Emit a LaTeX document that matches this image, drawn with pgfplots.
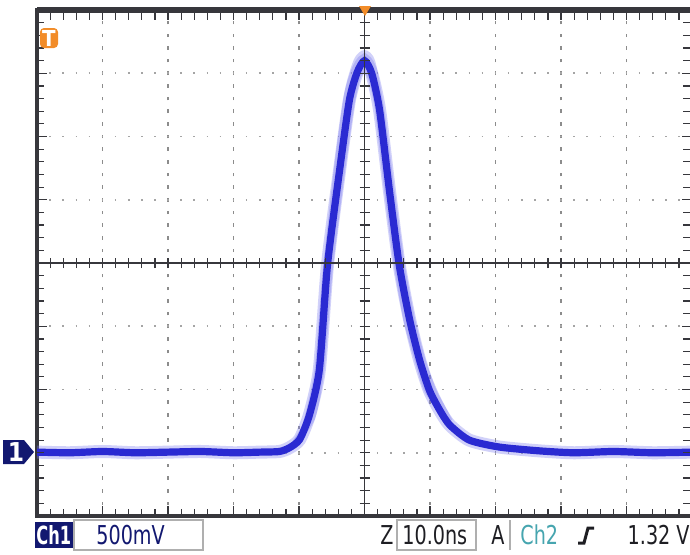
\documentclass[border=0pt]{standalone}
\usepackage{pgfplots}
\pgfplotsset{compat=1.18}
\usepackage{fontspec}
\setmainfont{DejaVu Sans}
\newfontfamily\condensed{DejaVu Sans Condensed}
\definecolor{trace}{RGB}{42,42,210}
\definecolor{halo}{RGB}{125,125,240}
\definecolor{framec}{RGB}{55,55,60}
\definecolor{gridv}{RGB}{140,140,140}
\definecolor{gridh}{RGB}{165,165,165}
\definecolor{boxc}{RGB}{175,175,175}
\definecolor{navy}{RGB}{18,24,112}
\definecolor{trig}{RGB}{242,140,40}
\definecolor{chtwo}{RGB}{70,165,175}
\definecolor{txt}{RGB}{30,30,35}

\begin{document}
\begin{tikzpicture}
\useasboundingbox (0,0) rectangle (345pt,277pt);
\fill[white] (0,0) rectangle (345pt,277pt);
\begin{axis}[
    at={(18.5pt,19pt)}, anchor=south west,
    scale only axis, width=327.5pt, height=253pt,
    xmin=-5, xmax=5, ymin=-4, ymax=4,
    xtick={-5,...,5}, ytick={-4,...,4},
    xticklabels={}, yticklabels={},
    tick align=inside, tick pos=both,
    major tick length=5pt,
    tick style={framec, line width=0.6pt},
    grid=major,
    x grid style={gridv, line width=0.55pt, dash pattern=on 1.8pt off 4.525pt, dash phase=0.9pt},
    y grid style={gridh, line width=0.8pt, dash pattern=on 0.8pt off 5.75pt, dash phase=0.4pt},
    axis line style={framec, line width=1.6pt},
    clip=true,
]
% faint persistence envelope near the peak
\addplot[halo, line width=3pt, opacity=0.35, smooth, tension=0.4] coordinates {
(-1.1,-2.9) (-0.9,-2.55) (-0.72,-1.7) (-0.6,-0.2) (-0.42,1.5) (-0.26,2.7) (-0.12,3.2) (0,3.32) (0.12,3.18)
(0.26,2.4) (0.42,1.1) (0.58,-0.1) (0.75,-1.0) (0.92,-1.65) (1.1,-2.1) (1.3,-2.5)};
\addplot[halo, line width=3pt, opacity=0.35, smooth, tension=0.4] coordinates {
(-1.1,-2.9) (-0.8,-2.45) (-0.66,-1.7) (-0.53,-0.1) (-0.35,1.4) (-0.2,2.5) (-0.1,2.95) (0,3.05) (0.1,2.92)
(0.2,2.45) (0.34,1.2) (0.49,0.0) (0.64,-0.9) (0.8,-1.5) (0.95,-2.0) (1.2,-2.4)};
% trace, in divisions (10 ns/div, 500 mV/div)
\addplot[halo, line width=6.5pt, opacity=0.35, smooth, tension=0.4] coordinates {
(-5,-2.99) (-4.5,-3.0) (-4.0,-2.98) (-3.5,-3.0) (-3.0,-2.99) (-2.5,-2.98) (-2.0,-3.0) (-1.6,-2.99) (-1.3,-2.98)
(-1.145,-2.92) (-0.99,-2.79) (-0.84,-2.40) (-0.69,-1.69) (-0.565,-0.03) (-0.38,1.47) (-0.23,2.58) (-0.11,3.02)
(0,3.2) (0.11,3.0) (0.23,2.42) (0.38,1.15) (0.53,-0.03) (0.69,-0.90) (0.84,-1.53) (0.99,-2.01) (1.145,-2.32)
(1.30,-2.56) (1.60,-2.80) (2.06,-2.91) (2.67,-2.97) (3.2,-3.0) (3.8,-2.98) (4.4,-3.0) (5,-2.99)};
\addplot[trace, line width=3.6pt, smooth, tension=0.4] coordinates {
(-5,-2.99) (-4.5,-3.0) (-4.0,-2.98) (-3.5,-3.0) (-3.0,-2.99) (-2.5,-2.98) (-2.0,-3.0) (-1.6,-2.99) (-1.3,-2.98)
(-1.145,-2.92) (-0.99,-2.79) (-0.84,-2.40) (-0.69,-1.69) (-0.565,-0.03) (-0.38,1.47) (-0.23,2.58) (-0.11,3.02)
(0,3.2) (0.11,3.0) (0.23,2.42) (0.38,1.15) (0.53,-0.03) (0.69,-0.90) (0.84,-1.53) (0.99,-2.01) (1.145,-2.32)
(1.30,-2.56) (1.60,-2.80) (2.06,-2.91) (2.67,-2.97) (3.2,-3.0) (3.8,-2.98) (4.4,-3.0) (5,-2.99)};
\end{axis}
\begin{scope}[x=0.5pt,y=0.5pt]
% small ticks along the frame, every 0.2 div
\foreach \i in {0,...,50} {
  \draw[framec, line width=0.6pt] (37+\i*13.1,38) -- (37+\i*13.1,45);
  \draw[framec, line width=0.6pt] (37+\i*13.1,544) -- (37+\i*13.1,534);
}
\foreach \i in {0,...,40} {
  \draw[framec, line width=0.6pt] (37,38+\i*12.65) -- (44,38+\i*12.65);
  \draw[framec, line width=0.6pt] (690,38+\i*12.65) -- (683,38+\i*12.65);
}
% centre cross with small ticks
\draw[framec, line width=0.8pt] (37,291) -- (692,291);
\draw[framec, line width=0.8pt] (364.5,38) -- (364.5,544);
\foreach \i in {0,...,50} {
  \draw[framec, line width=0.6pt] (37+\i*13.1,286) -- (37+\i*13.1,296);
}
\foreach \i in {0,...,40} {
  \draw[framec, line width=0.6pt] (359.5,38+\i*12.65) -- (369.5,38+\i*12.65);
}
% top border heavier
\draw[framec, line width=2.6pt] (37,544) -- (692,544);
% trigger markers
\fill[trig] (359,548) -- (371,548) -- (365,538) -- cycle;
\fill[trig, rounded corners=2pt] (40,506) rectangle (58,526);
\node[white, font=\condensed\bfseries\fontsize{11}{11}\selectfont] at (49,516) {T};
% channel 1 ground marker
\fill[navy] (3,90) -- (24,90) -- (34,102) -- (24,114) -- (3,114) -- cycle;
\node[white, font=\condensed\bfseries\fontsize{13}{13}\selectfont] at (16,102) {1};
% status bar
\fill[navy] (35,6) rectangle (74,32);
\node[white, anchor=west, inner sep=0pt, font=\condensed\bfseries\fontsize{12.5}{12.5}\selectfont] at (36,19) {\scalebox{0.72}[1]{Ch1}};
\draw[boxc, line width=0.6pt] (74,4) rectangle (203,34);
\node[navy, anchor=west, inner sep=0pt, font=\condensed\fontsize{13}{13}\selectfont] at (96,19) {\scalebox{0.82}[1]{500mV}};
\node[txt, anchor=west, inner sep=0pt, font=\condensed\fontsize{13}{13}\selectfont] at (380,19) {\scalebox{0.82}[1]{Z}};
\draw[boxc, line width=0.6pt] (397,4) rectangle (476,34);
\node[txt, anchor=west, inner sep=0pt, font=\condensed\fontsize{13}{13}\selectfont] at (402,19) {\scalebox{0.82}[1]{10.0ns}};
\node[txt, anchor=west, inner sep=0pt, font=\condensed\fontsize{13}{13}\selectfont] at (491,19) {\scalebox{0.82}[1]{A}};
\draw[boxc, line width=0.6pt] (510,4) -- (510,34);
\node[chtwo, anchor=west, inner sep=0pt, font=\condensed\fontsize{13}{13}\selectfont] at (520,19) {\scalebox{0.82}[1]{Ch2}};
\draw[txt, line width=1.5pt] (578,11) -- (584,11) -- (588,26) -- (594,26);
\node[txt, anchor=east, inner sep=0pt, font=\condensed\fontsize{13}{13}\selectfont] at (690,19) {\scalebox{0.82}[1]{1.32 V}};
\end{scope}
\end{tikzpicture}
\end{document}
